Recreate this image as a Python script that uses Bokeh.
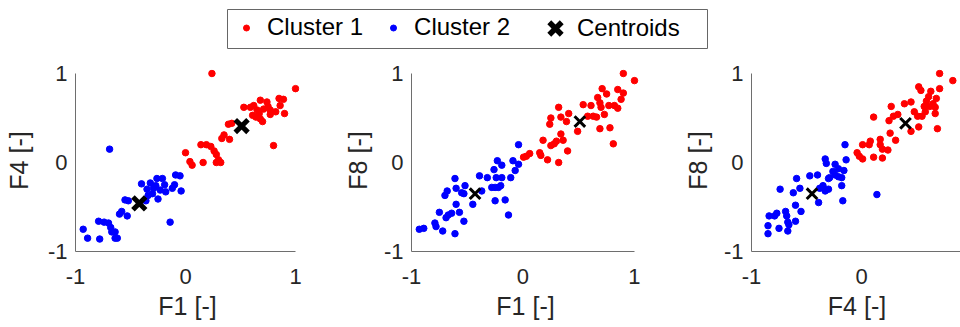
from bokeh.plotting import figure
from bokeh.models import Range1d, FixedTicker, Legend, LegendItem, ColumnDataSource
from bokeh.layouts import column, row
from bokeh.embed import file_html
from bokeh.resources import INLINE

FONT = "Liberation Sans"
RED = "#ff0000"
BLUE = "#0000ff"

tick_values = [-1, 0, 1]
tick_labels = ["-1", "0", "1"]
legend_labels = ["Cluster 1", "Cluster 2", "Centroids"]
x_labels = ["F1 [-]", "F1 [-]", "F4 [-]"]
y_labels = ["F4 [-]", "F8 [-]", "F8 [-]"]

# ---- Panel 1: F1 vs F4 ----
p1_c1_x = [0.24, 1.0, 0.0, 0.04, 0.06, 0.16, 0.14, 0.19, 0.23, 0.26, 0.28, 0.30, 0.32, 0.28, 0.33, 0.35,
           0.40, 0.39, 0.42, 0.53, 0.61, 0.62, 0.64, 0.67, 0.68, 0.70, 0.71, 0.74, 0.75, 0.77, 0.77, 0.82,
           0.85, 0.89, 0.86, 0.90, 0.80, 0.65, 0.59, 0.68]
p1_c1_y = [1.0, 0.83, 0.11, 0.01, -0.03, 0.0, 0.20, 0.20, 0.18, 0.13, 0.09, 0.03, 0.0, 0.0, 0.27, 0.31,
           0.26, 0.43, 0.44, 0.62, 0.53, 0.64, 0.51, 0.55, 0.70, 0.46, 0.60, 0.68, 0.63, 0.54, 0.59, 0.57,
           0.72, 0.71, 0.64, 0.55, 0.19, 0.59, 0.62, 0.49]
p1_c2_x = [-0.69, -0.93, -0.89, -0.78, -0.79, -0.74, -0.70, -0.68, -0.67, -0.64, -0.64, -0.62, -0.60,
           -0.58, -0.53, -0.55, -0.52, -0.40, -0.36, -0.32, -0.26, -0.27, -0.30, -0.25, -0.21, -0.19,
           -0.23, -0.18, -0.14, -0.09, -0.05, -0.10, -0.12, -0.04, -0.29, -0.35, -0.34]
p1_c2_y = [0.15, -0.75, -0.85, -0.86, -0.66, -0.67, -0.68, -0.73, -0.78, -0.78, -0.85, -0.85, -0.58,
           -0.55, -0.60, -0.42, -0.43, -0.24, -0.43, -0.23, -0.18, -0.26, -0.35, -0.41, -0.18, -0.25,
           -0.31, -0.33, -0.67, -0.14, -0.15, -0.25, -0.29, -0.32, -0.29, -0.30, -0.37]
p1_cent_x = [-0.42, 0.51]
p1_cent_y = [-0.46, 0.41]

# ---- Panel 2: F1 vs F8 ----
p2_c1_x = [0.005, 0.06, 0.03, 0.15, 0.16, 0.22, 0.18, 0.25, 0.28, 0.30, 0.32, 0.34, 0.36, 0.40, 0.24,
           0.25, 0.32, 0.34, 0.39, 0.41, 0.49, 0.54, 0.61, 0.58, 0.63, 0.67, 0.69, 0.70, 0.69, 0.66,
           0.73, 0.71, 0.75, 0.77, 0.78, 0.81, 0.82, 0.85, 0.85, 0.88, 0.90, 0.90, 1.0]
p2_c1_y = [0.06, 0.10, 0.07, 0.11, 0.08, 0.03, 0.25, 0.19, 0.21, 0.24, 0.0, 0.32, 0.25, 0.13, 0.43,
           0.50, 0.62, 0.51, 0.46, 0.55, 0.35, 0.65, 0.64, 0.52, 0.52, 0.73, 0.67, 0.62, 0.38, 0.51,
           0.54, 0.83, 0.77, 0.64, 0.39, 0.21, 0.64, 0.82, 0.61, 0.71, 0.78, 1.0, 0.92]
p2_c2_x = [-0.93, -0.89, -0.79, -0.78, -0.72, -0.61, -0.75, -0.69, -0.67, -0.64, -0.57, -0.53, -0.60,
           -0.70, -0.68, -0.61, -0.60, -0.55, -0.53, -0.52, -0.45, -0.39, -0.37, -0.32, -0.28, -0.25,
           -0.26, -0.24, -0.22, -0.19, -0.25, -0.20, -0.19, -0.16, -0.23, -0.13, -0.11, -0.09, -0.07,
           -0.04, -0.04]
p2_c2_y = [-0.75, -0.74, -0.68, -0.72, -0.77, -0.80, -0.56, -0.62, -0.59, -0.57, -0.56, -0.66, -0.47,
           -0.37, -0.32, -0.18, -0.29, -0.34, -0.35, -0.26, -0.47, -0.15, -0.32, -0.17, -0.28, -0.28,
           -0.08, -0.17, -0.28, -0.03, -0.43, -0.26, -0.17, -0.42, 0.02, -0.59, -0.17, 0.02, -0.09,
           -0.02, 0.20]
p2_cent_x = [-0.43, 0.51]
p2_cent_y = [-0.35, 0.46]

# ---- Panel 3: F4 vs F8 ----
p3_c1_x = [-0.04, -0.02, 0.01, 0.01, 0.07, 0.08, 0.11, 0.11, 0.17, 0.17, 0.19, 0.19, 0.24, 0.25, 0.26,
           0.27, 0.31, 0.29, 0.33, 0.39, 0.45, 0.45, 0.48, 0.51, 0.52, 0.55, 0.57, 0.52, 0.54, 0.61,
           0.59, 0.63, 0.62, 0.65, 0.67, 0.68, 0.67, 0.69, 0.71, 0.71, 0.83, 0.58]
p3_c1_y = [0.11, 0.07, 0.04, 0.20, 0.20, 0.24, 0.06, 0.51, 0.26, 0.20, 0.15, 0.05, 0.14, 0.47, 0.33,
           0.63, 0.25, 0.52, 0.54, 0.66, 0.68, 0.35, 0.57, 0.52, 0.40, 0.52, 0.63, 0.85, 0.81, 0.74,
           0.69, 0.80, 0.63, 0.66, 0.62, 0.72, 0.55, 0.38, 0.83, 1.0, 0.92, 0.57]
p3_c2_x = [-0.85, -0.85, -0.84, -0.79, -0.77, -0.74, -0.75, -0.69, -0.68, -0.67, -0.66, -0.67, -0.60,
           -0.60, -0.55, -0.62, -0.59, -0.56, -0.47, -0.40, -0.39, -0.38, -0.35, -0.33, -0.30, -0.33,
           -0.32, -0.29, -0.26, -0.24, -0.24, -0.21, -0.21, -0.18, -0.18, -0.16, -0.14, -0.15, -0.17,
           -0.30, 0.14]
p3_c2_y = [-0.71, -0.80, -0.60, -0.60, -0.57, -0.30, -0.74, -0.55, -0.60, -0.67, -0.70, -0.77, -0.66,
           -0.48, -0.55, -0.34, -0.18, -0.29, -0.15, -0.14, -0.45, -0.29, -0.26, -0.32, -0.30, 0.04,
           -0.01, -0.17, -0.10, -0.02, -0.14, -0.16, -0.07, -0.26, -0.17, -0.09, 0.03, 0.20, -0.43,
           -0.18, -0.36]
p3_cent_x = [-0.45, 0.40]
p3_cent_y = [-0.35, 0.44]

AXIS_COLOR = "#6e6e6e"
TEXT_COLOR = "#262626"
DOT = 6.5


def style_axis(ax, is_x, bounds, label_standoff):
    ax.ticker = FixedTicker(ticks=tick_values)
    ax.major_label_overrides = {v: s for v, s in zip(tick_values, tick_labels)}
    ax.bounds = bounds
    ax.axis_line_color = AXIS_COLOR
    ax.axis_line_width = 1
    ax.major_tick_in = 0
    ax.major_tick_out = 0
    ax.minor_tick_in = 0
    ax.minor_tick_out = 0
    ax.major_label_text_font = FONT
    ax.major_label_text_font_size = "22px"
    ax.major_label_text_color = TEXT_COLOR
    ax.axis_label_text_font = FONT
    ax.axis_label_text_font_size = "25px"
    ax.axis_label_text_font_style = "normal"
    ax.axis_label_text_color = TEXT_COLOR
    if is_x:
        ax.major_label_standoff = 17
        ax.axis_label_standoff = 5
    else:
        ax.major_label_standoff = 8
        ax.axis_label_standoff = label_standoff


def make_panel(c1x, c1y, c2x, c2y, cx, cy, xlab, ylab, fw, xmax, xbounds,
               bl, br, ylab_standoff, xsize, xlw):
    p = figure(frame_width=fw, frame_height=182,
               x_range=Range1d(-1, xmax), y_range=Range1d(-1, 1.045),
               output_backend="svg", toolbar_location=None,
               min_border_left=bl, min_border_right=br,
               min_border_top=16, min_border_bottom=75)
    p.xgrid.visible = False
    p.ygrid.visible = False
    p.outline_line_color = None
    p.background_fill_color = "white"
    p.border_fill_color = "white"
    p.xaxis.axis_label = xlab
    p.yaxis.axis_label = ylab
    style_axis(p.xaxis[0], True, xbounds, 0)
    style_axis(p.yaxis[0], False, (-1, 1), ylab_standoff)
    p.scatter(c1x, c1y, size=DOT, fill_color=RED, line_color=RED)
    p.scatter(c2x, c2y, size=DOT, fill_color=BLUE, line_color=BLUE)
    p.scatter(cx, cy, marker="x", size=xsize, line_color="black", line_width=xlw)
    return p


p1 = make_panel(p1_c1_x, p1_c1_y, p1_c2_x, p1_c2_y, p1_cent_x, p1_cent_y,
                x_labels[0], y_labels[0], 224, 1.036, (-1, 1), 75, 41, 12, 18, 5)
p2 = make_panel(p2_c1_x, p2_c1_y, p2_c2_x, p2_c2_y, p2_cent_x, p2_cent_y,
                x_labels[1], y_labels[1], 228, 1.045, (-1, 1), 65, 32, 9, 15, 3)
p3 = make_panel(p3_c1_x, p3_c1_y, p3_c2_x, p3_c2_y, p3_cent_x, p3_cent_y,
                x_labels[2], y_labels[2], 211, 0.918, "auto", 80, 0, 9, 15, 3)

# ---- Legend strip ----
top = figure(frame_width=480, frame_height=39,
             min_border_left=227, min_border_right=245, min_border_top=9, min_border_bottom=5,
             x_range=Range1d(0, 1), y_range=Range1d(0, 1),
             x_axis_type=None, y_axis_type=None,
             output_backend="svg", toolbar_location=None)
top.xgrid.visible = False
top.ygrid.visible = False
top.outline_line_color = "#666666"
top.outline_line_width = 1
top.background_fill_color = "white"
top.border_fill_color = "white"

NAN = float("nan")
proxy1 = ColumnDataSource(data=dict(x=[NAN], y=[NAN]))
proxy2 = ColumnDataSource(data=dict(x=[NAN], y=[NAN]))
proxy3 = ColumnDataSource(data=dict(x=[NAN], y=[NAN]))
r1 = top.scatter("x", "y", source=proxy1, size=DOT, fill_color=RED, line_color=RED)
r2 = top.scatter("x", "y", source=proxy2, size=DOT, fill_color=BLUE, line_color=BLUE)
r3 = top.scatter("x", "y", source=proxy3, marker="x", size=20, line_color="black", line_width=5.5)

leg_a = Legend(items=[LegendItem(label=legend_labels[0], renderers=[r1]),
                      LegendItem(label=legend_labels[1], renderers=[r2])],
               orientation="horizontal", location=(9, 7),
               glyph_width=20, glyph_height=15, label_standoff=11, spacing=20,
               padding=0, margin=0, border_line_color=None, background_fill_alpha=0,
               label_text_font=FONT, label_text_font_size="24px", label_text_color="black")
leg_b = Legend(items=[LegendItem(label=legend_labels[2], renderers=[r3])],
               orientation="horizontal", location=(306, -5),
               glyph_width=44, glyph_height=50, label_standoff=0, spacing=0,
               padding=0, margin=0, border_line_color=None, background_fill_alpha=0,
               label_text_font=FONT, label_text_font_size="24px", label_text_color="black")
top.add_layout(leg_a)
top.add_layout(leg_b)

layout = column(top, row(p1, p2, p3))

with open("out.html", "w") as f:
    f.write(file_html(layout, INLINE))
